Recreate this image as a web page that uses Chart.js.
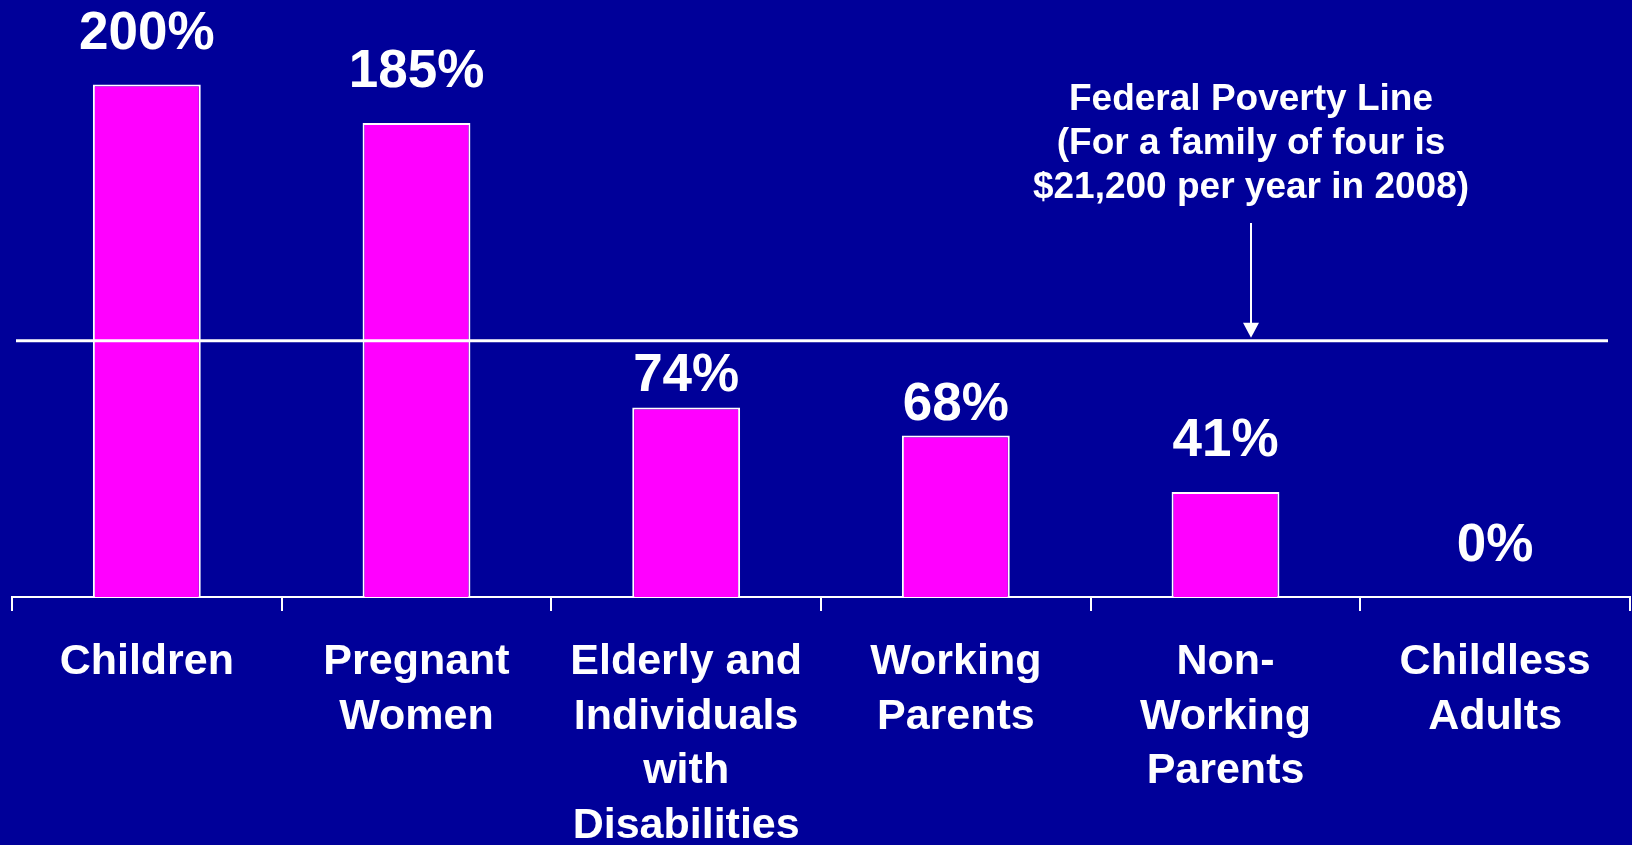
<!DOCTYPE html>
<html>
<head>
<meta charset="utf-8">
<script src="https://cdn.jsdelivr.net/npm/chart.js@4"></script>
<style>
  html, body { margin: 0; padding: 0; background: #000099; }
  #wrap { width: 1632px; height: 845px; position: relative; }
</style>
</head>
<body>
<div id="wrap"><canvas id="myChart"></canvas></div>
<script>
// Data
const categories = [
  'Children',
  ['Pregnant', 'Women'],
  ['Elderly and', 'Individuals', 'with', 'Disabilities'],
  ['Working', 'Parents'],
  ['Non-', 'Working', 'Parents'],
  ['Childless', 'Adults']
];
// printed labels
const eligibility = [200, 185, 74, 68, 41, 0];
// bar heights as drawn in the picture (the 68% bar is drawn shorter)
const barHeights = [200, 185, 74, 63, 41, 0];
const povertyLine = 100;
const povertyNote = ['Federal Poverty Line', '(For a family of four is', '$21,200 per year in 2008)'];

const FONT = "'Liberation Sans', Arial, sans-serif";

// value labels above each bar
const valueLabels = {
  id: 'valueLabels',
  afterDatasetsDraw(chart) {
    const ctx = chart.ctx;
    const meta = chart.getDatasetMeta(0);
    ctx.save();
    ctx.fillStyle = '#ffffff';
    ctx.font = 'bold 53px ' + FONT;
    ctx.textAlign = 'center';
    ctx.textBaseline = 'alphabetic';
    meta.data.forEach((bar, i) => {
      // the two labels under the poverty line sit closer to their bars
      const gap = (i === 2 || i === 3) ? 16 : 36;
      ctx.fillText(eligibility[i] + '%', bar.x, bar.y - gap);
    });
    ctx.restore();
  }
};

// poverty line + note with arrow
const povertyMarker = {
  id: 'povertyMarker',
  afterDatasetsDraw(chart) {
    const ctx = chart.ctx;
    const y = chart.scales.y.getPixelForValue(povertyLine);
    const ax = 1251;
    ctx.save();
    ctx.strokeStyle = '#ffffff';
    ctx.fillStyle = '#ffffff';
    ctx.lineWidth = 3;
    ctx.beginPath();
    ctx.moveTo(16, y);
    ctx.lineTo(1608, y);
    ctx.stroke();

    // arrow
    ctx.lineWidth = 2;
    ctx.beginPath();
    ctx.moveTo(ax, 223);
    ctx.lineTo(ax, y - 16);
    ctx.stroke();
    ctx.beginPath();
    ctx.moveTo(ax - 8, y - 18);
    ctx.lineTo(ax + 8, y - 18);
    ctx.lineTo(ax, y - 3);
    ctx.closePath();
    ctx.fill();

    ctx.font = 'bold 37px ' + FONT;
    ctx.textAlign = 'center';
    povertyNote.forEach((line, i) => {
      ctx.fillText(line, ax, 110 + i * 44);
    });
    ctx.restore();
  }
};

new Chart(document.getElementById('myChart'), {
  type: 'bar',
  data: {
    labels: categories,
    datasets: [{
      label: 'Eligibility',
      data: barHeights,
      backgroundColor: '#ff00ff',
      borderColor: '#ffffff',
      borderWidth: 2,
      barPercentage: 0.4,
      categoryPercentage: 1
    }]
  },
  options: {
    responsive: true,
    maintainAspectRatio: false,
    animation: false,
    layout: { padding: { left: 12, right: 2, top: 0, bottom: 0 } },
    plugins: {
      legend: { display: false },
      tooltip: { enabled: false }
    },
    scales: {
      y: {
        display: false,
        min: 0,
        max: 233
      },
      x: {
        afterFit(scale) { scale.height = 248; },
        grid: {
          offset: true,
          drawOnChartArea: false,
          drawTicks: true,
          tickLength: 14,
          color: '#ffffff',
          lineWidth: 2
        },
        border: { display: true, color: '#ffffff', width: 2 },
        ticks: {
          color: '#ffffff',
          padding: 24,
          maxRotation: 0,
          autoSkip: false,
          font: { family: FONT, size: 43, weight: 'bold', lineHeight: 1.27 }
        }
      }
    }
  },
  plugins: [valueLabels, povertyMarker]
});
</script>
</body>
</html>
